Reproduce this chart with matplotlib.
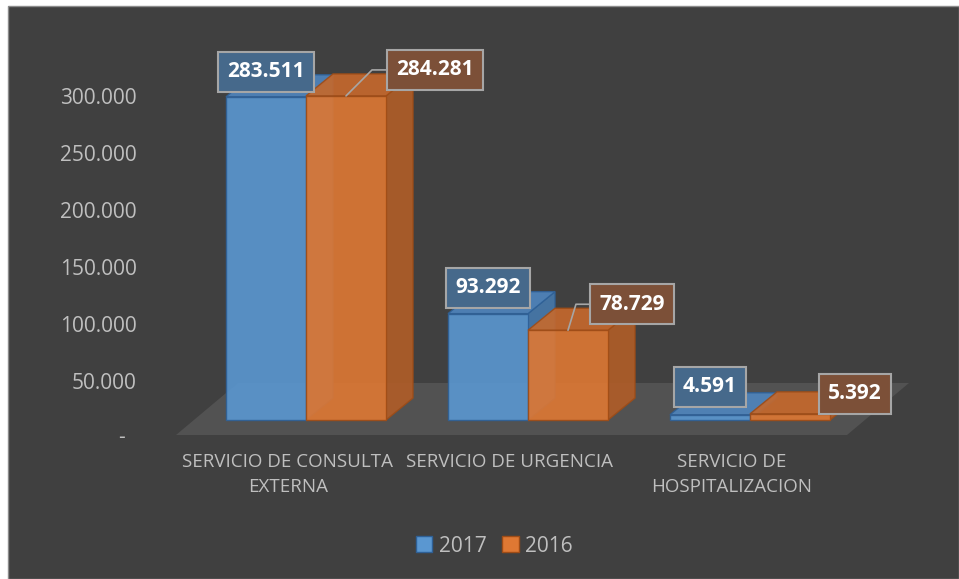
import matplotlib
matplotlib.use("Agg")
import matplotlib.pyplot as plt
from matplotlib.patches import Rectangle, Polygon, Patch
from matplotlib.ticker import FuncFormatter
from matplotlib.transforms import ScaledTranslation

plt.rcParams['font.family'] = ['Open Sans', 'DejaVu Sans']

categories = ['SERVICIO DE CONSULTA\nEXTERNA', 'SERVICIO DE URGENCIA', 'SERVICIO DE\nHOSPITALIZACION']
series_names = ['2017', '2016']
values_2017 = [283511, 93292, 4591]
values_2016 = [284281, 78729, 5392]
yticks = [0, 50000, 100000, 150000, 200000, 250000, 300000]

# colours: front, top, side, edge, label box
styles = [
    dict(front='#5A97D1', top='#4F86BF', side='#4679AC', edge='#2F6096', box='#46698B'),
    dict(front='#DF7833', top='#C7692C', side='#B15D27', edge='#9E4C17', box='#7C5038'),
]

# layout in pixels
W, H = 959, 579
AX_L, AX_R, AX_T, AX_B = 150, 940, 30, 438
CAT0, CAT_STEP = 288, 222
VAL_PER_PX = 300000 / 342


def dxy(px, py):
    return px / CAT_STEP, py * VAL_PER_PX


def fmt(v, pos=None):
    return '' if v == 0 else f'{v:,.0f}'.replace(',', '.')


fig = plt.figure(figsize=(W / 100, H / 100), dpi=100, facecolor='white')
fig.patches.append(Rectangle((8 / W, 0), (W - 8) / W, (H - 6) / H, transform=fig.transFigure,
                             fc='#404040', ec='#8C8C8C', lw=1, zorder=-5))

ax = fig.add_axes([AX_L / W, 1 - AX_B / H, (AX_R - AX_L) / W, (AX_B - AX_T) / H])
ax.set_facecolor('none')
ax.set_xlim((AX_L - CAT0) / CAT_STEP, (AX_R - CAT0) / CAT_STEP)
ax.set_ylim(0, (AX_B - AX_T) * VAL_PER_PX)
for s in ax.spines.values():
    s.set_visible(False)

# floor
fx0 = (176 - CAT0) / CAT_STEP
fx1 = (847 - CAT0) / CAT_STEP
fy = dxy(0, 3)[1]
fdx, fdy = dxy(62, 52)
ax.add_patch(Polygon([(fx0, fy), (fx1, fy), (fx1 + fdx, fy + fdy), (fx0 + fdx, fy + fdy)],
                     closed=True, fc='#525252', ec='none', zorder=1))

bar_w = 80 / CAT_STEP
ox, oy = dxy(18, 18)
ddx, ddy = dxy(27, 22)

# label offsets in pixels from the front-top centre of each bar, plus leader angle
label_offsets = [
    [(0, 25, None), (0, 26, None), (0, 28, None)],
    [(89, 26, 45), (64, 26, 73), (65, 20, None)],
]

z = 2
for i in range(len(categories)):
    for j, vals in enumerate([values_2017, values_2016]):
        st = styles[j]
        v = vals[i]
        x0 = i - bar_w + j * bar_w + ox
        x1 = x0 + bar_w
        y0, y1 = oy, oy + v
        kw = dict(closed=True, ec=st['edge'], lw=1, alpha=0.9, zorder=z)
        ax.add_patch(Polygon([(x1, y0), (x1 + ddx, y0 + ddy), (x1 + ddx, y1 + ddy), (x1, y1)],
                             fc=st['side'], **kw))
        ax.add_patch(Polygon([(x0, y1), (x1, y1), (x1 + ddx, y1 + ddy), (x0 + ddx, y1 + ddy)],
                             fc=st['top'], **kw))
        ax.add_patch(Polygon([(x0, y0), (x1, y0), (x1, y1), (x0, y1)], fc=st['front'], **kw))
        z += 1

# data labels
for i in range(len(categories)):
    for j, vals in enumerate([values_2017, values_2016]):
        st = styles[j]
        v = vals[i]
        xc = i - bar_w / 2 + j * bar_w + ox
        yt = oy + v
        px, py, ang = label_offsets[j][i]
        arrow = None
        if ang is not None:
            arrow = dict(arrowstyle='-', color='#A6A6A6', lw=1.2, shrinkA=0, shrinkB=0,
                         relpos=(0, 0.5), connectionstyle=f'angle,angleA=180,angleB={ang},rad=0')
        ax.annotate(fmt(v), xy=(xc, yt), xytext=(px, py), textcoords='offset pixels',
                    ha='center', va='center', color='white', fontsize=15, fontweight='bold',
                    bbox=dict(boxstyle='square,pad=0.45', fc=st['box'], ec='#A6A6A6', lw=1.5),
                    arrowprops=arrow, zorder=20)

# axes ticks
ax.set_yticks(yticks)
ax.yaxis.set_major_formatter(FuncFormatter(fmt))
ax.tick_params(axis='y', length=0, pad=9.4, labelsize=15, labelcolor='#BFBFBF')
ax.text(0, 0, '-', transform=ax.get_yaxis_transform() + ScaledTranslation(-0.25, 0, fig.dpi_scale_trans),
        ha='right', va='center', fontsize=15, color='#BFBFBF')
ax.set_xticks(range(len(categories)))
ax.set_xticklabels(categories, fontsize=13.5, color='#BFBFBF', linespacing=1.5, ma='center')
ax.tick_params(axis='x', length=0, pad=11)

handles = [Patch(fc=styles[j]['front'], ec=styles[j]['edge'], lw=1) for j in range(2)]
fig.legend(handles, series_names, loc='center', bbox_to_anchor=(494 / W, 1 - 546 / H), ncol=2,
           frameon=False, fontsize=15, labelcolor='#BFBFBF', handlelength=0.8, handleheight=0.8,
           handletextpad=0.3, columnspacing=0.75)

fig.savefig('out.png', dpi=100, facecolor=fig.get_facecolor())
